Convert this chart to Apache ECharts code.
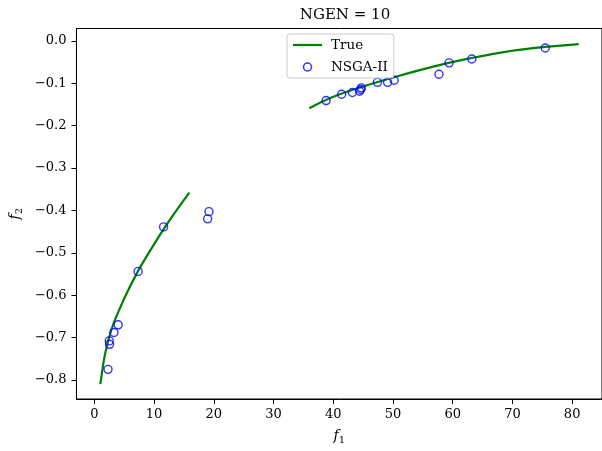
<!DOCTYPE html>
<html><head><meta charset="utf-8">
<script src="https://cdn.jsdelivr.net/npm/echarts@6/dist/echarts.min.js"></script>
<style>html,body{margin:0;padding:0;background:#fff}#c{width:602px;height:451px}</style>
</head><body><div id="c"></div>
<script>
const titleText = 'NGEN = 10';
const xTicks = [0, 10, 20, 30, 40, 50, 60, 70, 80];
const yTicks = [-0.8, -0.7, -0.6, -0.5, -0.4, -0.3, -0.2, -0.1, 0.0];

const trueSeg1X = [1.0, 1.7, 2.5, 3.2, 4.3, 5.4, 7.4, 9.9, 12.6, 15.9];
const trueSeg1Y = [-0.81, -0.745, -0.698, -0.667, -0.63, -0.596, -0.541, -0.482, -0.423, -0.358];
const trueSeg2X = [36.0, 39.8, 45.4, 50.9, 56.4, 62.0, 67.5, 73.1, 81.1];
const trueSeg2Y = [-0.159, -0.133, -0.106, -0.083, -0.062, -0.044, -0.029, -0.018, -0.008];

const nsgaX = [2.28, 2.49, 2.54, 3.28, 3.99, 7.32, 11.59, 18.96, 19.18,
  38.8, 41.4, 43.2, 44.4, 44.6, 44.7, 47.4, 49.1, 50.2, 57.7, 59.4, 63.2, 75.5];
const nsgaY = [-0.775, -0.708, -0.716, -0.688, -0.670, -0.544, -0.439, -0.420, -0.403,
  -0.141, -0.126, -0.122, -0.119, -0.115, -0.111, -0.098, -0.098, -0.093, -0.079, -0.052, -0.043, -0.017];

const zip = (a, b) => a.map((v, i) => [v, b[i]]);
const FONT = 'DejaVu Serif';
const fmtY = v => (v < 0 ? '\u2212' : '') + Math.abs(v).toFixed(1);

const chart = echarts.init(document.getElementById('c'), null, {renderer: 'canvas'});
chart.setOption({
  animation: false,
  backgroundColor: '#fff',
  title: {
    text: titleText, left: 340, top: 3, textAlign: 'center',
    textStyle: {fontFamily: FONT, fontSize: 15, fontWeight: 'normal', color: '#000'}
  },
  grid: {left: 76, top: 28.5, right: -3, bottom: 52, show: true, borderColor: '#000', borderWidth: 1, backgroundColor: 'transparent'},
  legend: {
    orient: 'vertical', left: 287, top: 34,
    padding: [4, 6, 4, 6], itemGap: 8, itemWidth: 29, itemHeight: 8,
    backgroundColor: 'rgba(255,255,255,0.8)', borderColor: '#cccccc', borderWidth: 1, borderRadius: 3,
    textStyle: {fontFamily: FONT, fontSize: 13.5, color: '#000', padding: [0, 0, 0, 4]},
    data: [
      {name: 'True', icon: 'path://M0,0 L29,0 L29,2.2 L0,2.2 Z', itemStyle: {color: '#008000'}},
      {name: 'NSGA-II', icon: 'circle', itemStyle: {color: 'rgba(0,0,0,0)', borderColor: '#0000ff', borderWidth: 1.5}}
    ]
  },
  xAxis: {
    type: 'value', min: -3, max: 85,
    splitLine: {show: false},
    axisLine: {show: true, onZero: false, lineStyle: {color: '#000', width: 1}},
    axisTick: {show: true, length: 5, lineStyle: {color: '#000'}, customValues: xTicks},
    axisLabel: {fontFamily: FONT, fontSize: 13, color: '#000', margin: 9, customValues: xTicks, formatter: v => String(v)},
    name: '{i|f}{s|1}', nameLocation: 'middle', nameGap: 28,
    nameTextStyle: {rich: {i: {fontFamily: FONT, fontStyle: 'italic', fontSize: 14, color: '#000'}, s: {fontFamily: FONT, fontSize: 10, color: '#000', verticalAlign: 'bottom', padding: [8, 0, 0, 0]}}}
  },
  yAxis: {
    type: 'value', min: -0.845, max: 0.029,
    splitLine: {show: false},
    axisLine: {show: true, onZero: false, lineStyle: {color: '#000', width: 1}},
    axisTick: {show: true, length: 5, lineStyle: {color: '#000'}, customValues: yTicks},
    axisLabel: {fontFamily: FONT, fontSize: 13, color: '#000', margin: 10, customValues: yTicks, formatter: fmtY},
    name: '{i|f}{s|2}', nameLocation: 'middle', nameGap: 47, nameRotate: 90,
    nameTextStyle: {rich: {i: {fontFamily: FONT, fontStyle: 'italic', fontSize: 14, color: '#000'}, s: {fontFamily: FONT, fontSize: 10, color: '#000', padding: [8, 0, 0, 0]}}}
  },
  series: [
    {name: 'True', type: 'line', data: zip(trueSeg1X, trueSeg1Y), showSymbol: false, smooth: 0.35,
      lineStyle: {color: '#008000', width: 2.2}, itemStyle: {color: '#008000'}, z: 2},
    {name: 'True', type: 'line', data: zip(trueSeg2X, trueSeg2Y), showSymbol: false, smooth: 0.35,
      lineStyle: {color: '#008000', width: 2.2}, itemStyle: {color: '#008000'}, z: 2},
    {name: 'NSGA-II', type: 'scatter', data: zip(nsgaX, nsgaY), symbol: 'circle', symbolSize: 8,
      itemStyle: {color: 'rgba(0,0,0,0)', borderColor: '#0000ff', borderWidth: 1.4}, z: 3}
  ]
});
</script></body></html>
